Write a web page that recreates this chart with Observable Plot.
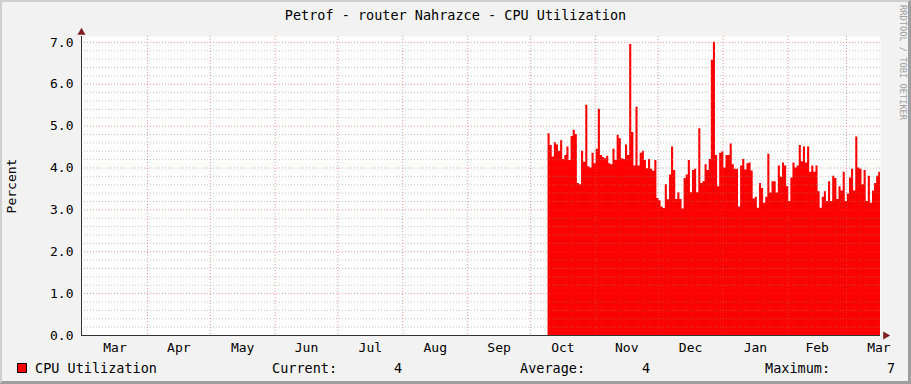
<!DOCTYPE html>
<html><head><meta charset="utf-8">
<script src="https://cdn.jsdelivr.net/npm/d3@7"></script>
<script src="https://cdn.jsdelivr.net/npm/@observablehq/plot@0.6"></script>
<style>
body{margin:0;background:#f2f2f2;}
#wrap{position:relative;width:911px;height:384px;background:#f2f2f2;overflow:hidden;font-family:"DejaVu Sans Mono",monospace;color:#000;}
#title{height:28px;line-height:30px;text-align:center;font-size:13.5px;white-space:pre;}
#chart{height:328px;}
#legend{position:relative;height:28px;font-size:13.5px;}
#legend span{position:absolute;top:5px;line-height:14px;white-space:pre;}
#legend .swatch{position:absolute;left:17px;top:7px;width:8px;height:8px;background:#ff0000;border:1px solid #000;}
#frame{position:absolute;left:0;top:0;width:911px;height:384px;box-sizing:border-box;border-top:2px solid #cfcfcf;border-left:2px solid #cfcfcf;border-right:3px solid #9e9e9e;border-bottom:3px solid #9e9e9e;pointer-events:none;}
#mark{position:absolute;left:898px;top:5px;writing-mode:vertical-rl;font-size:8.7px;color:#a0a0a0;line-height:10px;white-space:pre;}
</style></head>
<body>
<div id="wrap">
  <div id="title"></div>
  <div id="chart"></div>
  <div id="legend"></div>
  <div id="mark">RRDTOOL / TOBI OETIKER</div>
  <div id="frame"></div>
</div>
<script>
// ---- data ----
const title = "Petrof - router Nahrazce - CPU Utilization";
const seriesName = "CPU Utilization";
const yLabel = "Percent";
const dataStart = Date.UTC(2010, 9, 9, 10); // first daily sample
const dayMs = 864e5;
const cpuValues = [
  4.82,4.54,4.26,4.6,4.55,4.4,4.65,4.2,4.3,4.5,
  4.18,4.75,4.9,4.8,3.63,3.6,4.4,4.14,5.5,4.03,
  4.0,4.35,4.1,4.45,5.4,4.3,4.25,4.22,4.28,4.1,
  4.08,4.45,4.18,4.78,4.7,4.22,4.2,4.55,4.3,6.95,
  4.85,4.05,5.45,4.05,4.35,4.4,4.18,3.98,4.2,3.97,
  3.92,4.18,3.27,3.22,3.07,3.03,3.6,3.24,3.83,4.5,
  3.94,3.25,3.41,3.25,3.02,3.75,3.83,4.18,3.41,3.94,
  3.97,3.41,4.94,3.63,3.67,4.08,3.94,4.2,6.57,7.0,
  4.3,3.55,4.35,4.38,4.0,4.3,4.3,4.57,4.08,3.97,
  3.97,3.07,4.05,4.2,3.95,4.1,4.12,3.93,3.26,3.3,
  3.04,3.63,3.51,3.16,3.3,4.33,3.4,3.67,3.67,3.4,
  4.05,3.78,4.12,4.05,3.55,3.2,3.76,4.12,4.0,4.05,
  4.54,4.15,4.5,4.12,4.5,3.9,4.05,3.9,4.05,3.43,
  3.04,3.3,3.43,3.2,3.67,3.2,3.8,3.75,3.25,3.55,
  3.45,3.9,3.2,3.38,3.76,3.97,3.45,4.74,4.0,3.97,
  3.6,3.94,3.2,3.8,3.16,3.45,3.63,3.8,3.9,3.97
];
const xDomain = [new Date(Date.UTC(2010, 1, 28, 12)), new Date(Date.UTC(2011, 2, 17, 6))];
const yDomain = [0, 7.14];
const yTicks = [0, 1, 2, 3, 4, 5, 6, 7];
const monthLabels = ["Mar","Apr","May","Jun","Jul","Aug","Sep","Oct","Nov","Dec","Jan","Feb","Mar"];
const firstMonth = Date.UTC(2010, 2, 1);

// ---- derived tables ----
const data = cpuValues.map((v, i) => ({date: new Date(dataStart + i * dayMs), value: v}));
const monthStartsAll = d3.utcMonth.range(new Date(firstMonth), d3.utcMonth.offset(new Date(firstMonth), monthLabels.length + 1));
const monthMids = monthLabels.map((_, i) => new Date((+monthStartsAll[i] + +monthStartsAll[i + 1]) / 2));
const monthGrid = monthStartsAll.slice(1, monthLabels.length);
const minorTicks = d3.range(1, 36).map(k => k / 5).filter(v => Math.abs(v - Math.round(v)) > 1e-6);

document.getElementById("title").textContent = title;

const chart = Plot.plot({
  width: 911, height: 328,
  marginLeft: 81, marginRight: 31, marginTop: 8, marginBottom: 21,
  style: {background: "transparent", fontFamily: '"DejaVu Sans Mono", monospace', fontSize: "13px", overflow: "visible", color: "#000"},
  x: {type: "utc", domain: xDomain},
  y: {domain: yDomain},
  marks: [
    Plot.frame({fill: "white", stroke: "none"}),
    Plot.areaY(data, {x: "date", y: "value", curve: "step-after", fill: "#ff0000", clip: true}),
    Plot.ruleY(minorTicks, {stroke: "#8f8f8f", strokeOpacity: 0.5, strokeDasharray: "1,2"}),
    Plot.ruleY(yTicks.filter(d => d > 0), {stroke: "#de4f4f", strokeOpacity: 0.55, strokeDasharray: "1,2"}),
    Plot.ruleX(monthGrid, {stroke: "#de4f4f", strokeOpacity: 0.55, strokeDasharray: "1,2"}),
    Plot.axisY({ticks: yTicks, tickFormat: d => d.toFixed(1), tickSize: 0, tickPadding: 8,
      label: yLabel, labelAnchor: "center", labelOffset: 75, labelArrow: "none"}),
    Plot.axisX({ticks: monthMids, tickFormat: d => monthLabels[monthMids.findIndex(m => +m === +d)],
      tickSize: 0, tickPadding: 7, label: null}),
    Plot.ruleY([0], {stroke: "#333"}),
    Plot.ruleX([xDomain[0]], {stroke: "#333"}),
    Plot.dot([{x: xDomain[1], y: 0}], {x: "x", y: "y", symbol: "triangle", rotate: 90, r: 3, fill: "#7f1f1f", stroke: "none", dx: 5}),
    Plot.dot([{x: xDomain[0], y: yDomain[1]}], {x: "x", y: "y", symbol: "triangle", r: 3, fill: "#7f1f1f", stroke: "none", dy: -4})
  ]
});
document.getElementById("chart").appendChild(chart);

// ---- legend ----
const cur = cpuValues[cpuValues.length - 1];
const avg = d3.mean(cpuValues);
const max = d3.max(cpuValues);
const legend = document.getElementById("legend");
const fmt = v => v.toFixed(0).padStart(8);
const items = [
  [35, seriesName],
  [272, "Current:" + fmt(cur)],
  [520, "Average:" + fmt(avg)],
  [765, "Maximum:" + fmt(max)]
];
const sw = document.createElement("div"); sw.className = "swatch"; legend.appendChild(sw);
for (const [x, t] of items) {
  const s = document.createElement("span");
  s.style.left = x + "px";
  s.textContent = t;
  legend.appendChild(s);
}
</script>
</body></html>
